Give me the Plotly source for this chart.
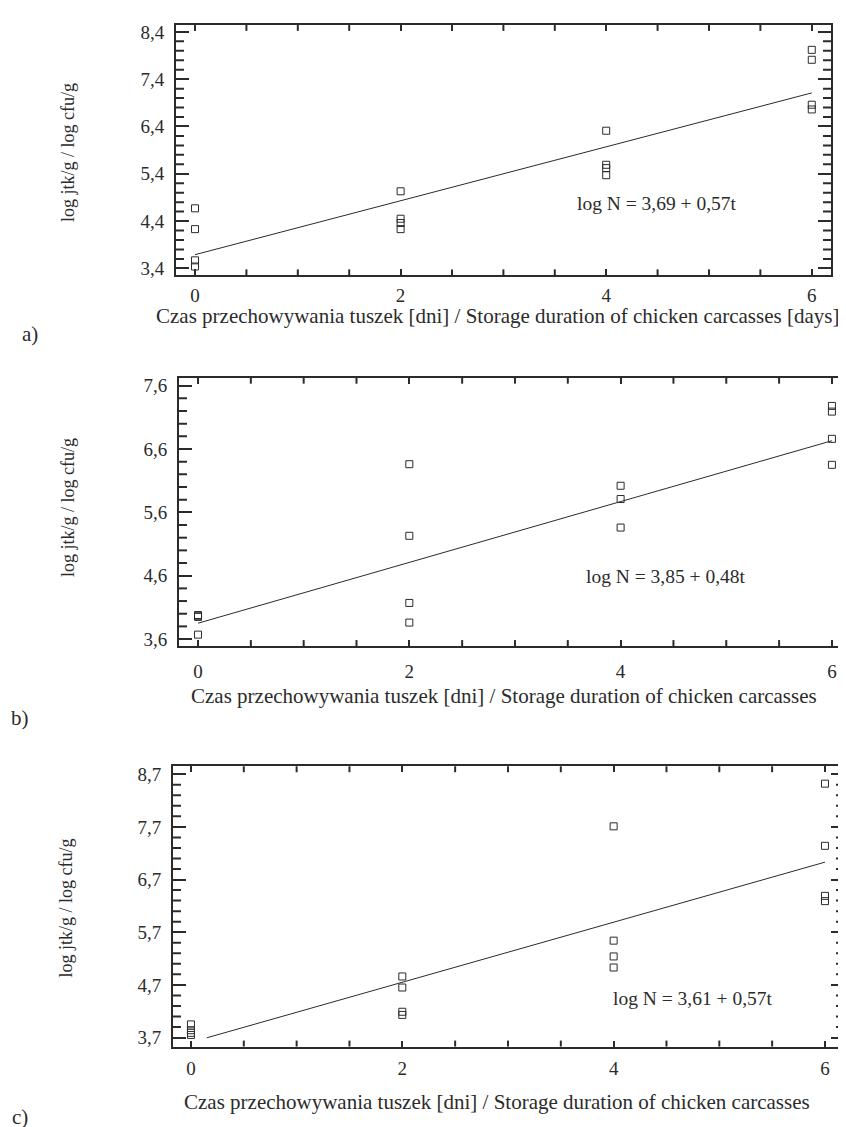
import plotly.graph_objects as go

# ---------------- data ----------------
days = [0, 2, 4, 6]

# panel a
a_t = [0, 0, 0, 0, 2, 2, 2, 2, 4, 4, 4, 4, 6, 6, 6, 6]
a_logN = [4.67, 4.23, 3.57, 3.44, 5.03, 4.45, 4.36, 4.23,
          6.31, 5.59, 5.52, 5.37, 8.02, 7.81, 6.86, 6.76]
a_coef = (3.69, 0.57)
a_fit_t = [0, 6]
a_yticks = [3.4, 4.4, 5.4, 6.4, 7.4, 8.4]

# panel b
b_t = [0, 0, 0, 0, 2, 2, 2, 2, 4, 4, 4, 6, 6, 6, 6]
b_logN = [3.98, 3.96, 3.95, 3.67, 6.36, 5.23, 4.17, 3.86,
          6.02, 5.81, 5.36, 7.28, 7.19, 6.76, 6.35]
b_coef = (3.85, 0.48)
b_fit_t = [0, 6]
b_yticks = [3.6, 4.6, 5.6, 6.6, 7.6]

# panel c
c_t = [0, 0, 0, 0, 2, 2, 2, 2, 4, 4, 4, 4, 6, 6, 6, 6]
c_logN = [3.95, 3.84, 3.79, 3.75, 4.86, 4.65, 4.19, 4.13,
          7.71, 5.54, 5.24, 5.03, 8.52, 7.34, 6.39, 6.29]
c_coef = (3.61, 0.57)
c_fit_t = [0.15, 6]
c_yticks = [3.7, 4.7, 5.7, 6.7, 7.7, 8.7]

eq_texts = ["log N = 3,69 + 0,57t", "log N = 3,85 + 0,48t", "log N = 3,61 + 0,57t"]
ytitle = "log jtk/g / log cfu/g"
xtitles = [
    "Czas przechowywania tuszek [dni] / Storage duration of chicken carcasses [days]",
    "Czas przechowywania tuszek [dni] / Storage duration of chicken carcasses",
    "Czas przechowywania tuszek [dni] / Storage duration of chicken carcasses",
]
panel_letters = ["a)", "b)", "c)"]

# ---------------- layout helpers ----------------
W, H = 846, 1127
FONT = "Liberation Serif, Times New Roman, serif"
INK = "#2b2b2b"
Y_MINOR_STEP = 0.2
X_MINOR_STEP = 0.5

panels = [
    dict(t=a_t, y=a_logN, coef=a_coef, fit_t=a_fit_t, yt=a_yticks,
         px=(168, 823), py=(14, 266), xr=(-0.185, 6.187), yr=(3.253, 8.547),
         eq=(4.49, 4.78), xstand=2),
    dict(t=b_t, y=b_logN, coef=b_coef, fit_t=b_fit_t, yt=b_yticks,
         px=(171, 844), py=(369, 639), xr=(-0.18, 6.19), yr=(3.49, 7.725),
         eq=(4.43, 4.59), xstand=7),
    dict(t=c_t, y=c_logN, coef=c_coef, fit_t=c_fit_t, yt=c_yticks,
         px=(165, 836), py=(760, 1042), xr=(-0.17, 6.18), yr=(3.53, 8.85),
         eq=(4.75, 4.44), xstand=4),
]

fig = go.Figure()
annotations = []
shapes = []
layout_axes = {}

for i, p in enumerate(panels):
    n = "" if i == 0 else str(i + 1)
    xa, ya = "x" + n, "y" + n
    wpx = p["px"][1] - p["px"][0]
    hpx = p["py"][1] - p["py"][0]

    xd = [p["px"][0] / W, p["px"][1] / W]
    yd = [1 - p["py"][1] / H, 1 - p["py"][0] / H]

    fig.add_trace(go.Scatter(
        x=p["t"], y=p["y"], mode="markers", xaxis=xa, yaxis=ya,
        marker=dict(symbol="square-open", size=7, color=INK, line=dict(width=1, color=INK)),
        showlegend=False, cliponaxis=False))
    a0, b0 = p["coef"]
    fit_y = [a0 + b0 * tt for tt in p["fit_t"]]
    fig.add_trace(go.Scatter(
        x=p["fit_t"], y=fit_y, mode="lines", xaxis=xa, yaxis=ya,
        line=dict(color=INK, width=1), showlegend=False))

    layout_axes["xaxis" + n] = dict(
        domain=xd, range=list(p["xr"]), anchor=ya,
        showline=True, linecolor=INK, linewidth=2, mirror="ticks",
        ticks="inside", ticklen=6, tickwidth=2, tickcolor=INK,
        tickmode="linear", tick0=days[0], dtick=days[1] - days[0], tickformat="d",
        showgrid=False, zeroline=False,
        tickfont=dict(family=FONT, size=19, color=INK), ticklabelstandoff=p["xstand"])
    layout_axes["yaxis" + n] = dict(
        domain=yd, range=list(p["yr"]), anchor=xa,
        showline=True, linecolor=INK, linewidth=2, mirror="ticks",
        ticks="inside", ticklen=13, tickwidth=2, tickcolor=INK,
        tickmode="linear", tick0=p["yt"][0], dtick=1, tickformat=".1f",
        showgrid=False, zeroline=False,
        tickfont=dict(family=FONT, size=19, color=INK), ticklabelstandoff=6)

    # minor tick marks (axis decoration) on all four sides
    ylen = 8 / wpx
    k = 0
    while True:
        v = round(p["yt"][0] + k * Y_MINOR_STEP, 6)
        if v > p["yr"][1]:
            break
        frac = (v - p["yt"][0]) % 1
        if 1e-6 < frac < 1 - 1e-6:
            for x0, x1 in ((0, ylen), (1, 1 - ylen)):
                shapes.append(dict(type="line", xref=xa + " domain", yref=ya,
                                   x0=x0, x1=x1, y0=v, y1=v, layer="above",
                                   line=dict(color=INK, width=2)))
        k += 1
    xlen = 6 / hpx
    k = 0
    while True:
        v = round(days[0] + k * X_MINOR_STEP, 6)
        if v > p["xr"][1]:
            break
        if v % 2 != 0:
            for y0, y1 in ((0, xlen), (1, 1 - xlen)):
                shapes.append(dict(type="line", yref=ya + " domain", xref=xa,
                                   y0=y0, y1=y1, x0=v, x1=v, layer="above",
                                   line=dict(color=INK, width=2)))
        k += 1

    annotations.append(dict(
        x=p["eq"][0], y=p["eq"][1], xref=xa, yref=ya, text=eq_texts[i], showarrow=False,
        font=dict(family=FONT, size=19.5, color=INK), xanchor="center", yanchor="middle"))

def px2paper(x, y):
    return x / W, 1 - y / H

ytitle_pos = [(60, 143), (60, 500), (58, 903)]
xtitle_pos = [(490, 307), (496, 689), (489, 1098)]
letter_pos = [(22, 325), (12, 711), (12, 1113)]
for i in range(3):
    x, y = px2paper(*ytitle_pos[i])
    annotations.append(dict(x=x, y=y, xref="paper", yref="paper", text=ytitle,
                            textangle=-90, showarrow=False, xanchor="center", yanchor="middle",
                            font=dict(family=FONT, size=18, color=INK)))
    x, y = px2paper(*xtitle_pos[i])
    annotations.append(dict(x=x, y=y, xref="paper", yref="paper", text=xtitles[i],
                            showarrow=False, xanchor="center", yanchor="middle",
                            font=dict(family=FONT, size=21, color=INK)))
    x, y = px2paper(*letter_pos[i])
    annotations.append(dict(x=x, y=y, xref="paper", yref="paper", text=panel_letters[i],
                            showarrow=False, xanchor="center", yanchor="middle",
                            font=dict(family=FONT, size=21, color=INK)))

fig.update_layout(
    width=W, height=H, margin=dict(l=0, r=0, t=0, b=0),
    paper_bgcolor="white", plot_bgcolor="white", separators=",.",
    annotations=annotations, shapes=shapes, **layout_axes)

fig.write_html("out.html")
